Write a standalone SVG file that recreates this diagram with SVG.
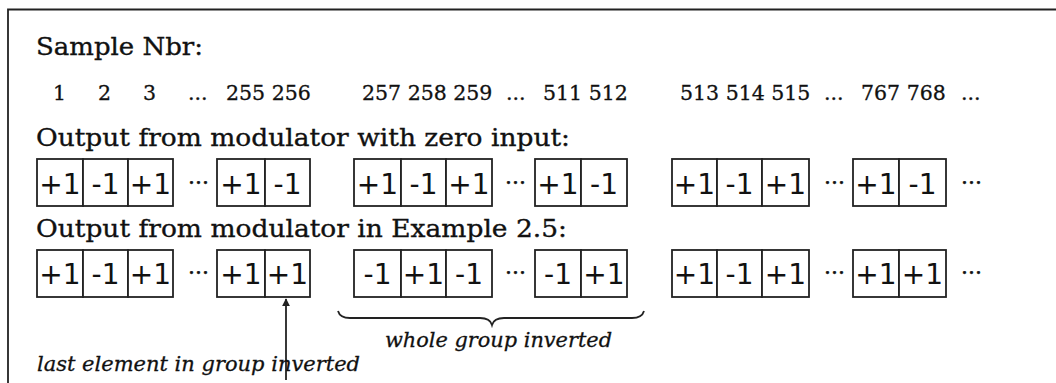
<svg xmlns="http://www.w3.org/2000/svg" width="1056" height="383" viewBox="0 0 1056 383">
<style>
.hd{font-family:"DejaVu Serif","Liberation Serif",serif;font-size:25px;fill:#111;stroke:#111;stroke-width:0.35}
.num{font-family:"DejaVu Serif","Liberation Serif",serif;font-size:20.5px;fill:#111;stroke:#111;stroke-width:0.3}
.it{font-family:"DejaVu Serif","Liberation Serif",serif;font-style:italic;font-size:21px;fill:#111;stroke:#111;stroke-width:0.3}
.bx{fill:#fff;stroke:#222;stroke-width:1.8}
.bt{font-family:"DejaVu Sans","Liberation Sans",sans-serif;font-size:28px;fill:#111;text-anchor:middle}
.dots{font-family:"DejaVu Serif","Liberation Serif",serif;font-size:22px;fill:#111;stroke:#111;stroke-width:0.4}
.ln{fill:none;stroke:#222;stroke-width:1.8}
</style>
<defs>
<marker id="ah" viewBox="0 0 10 10" refX="9" refY="5" markerWidth="8" markerHeight="8" markerUnits="userSpaceOnUse" orient="auto"><path d="M0,0 L10,5 L0,10 z" fill="#222"/></marker>
</defs>
<g id="frame"><path class="ln" d="M8,383 L8,9.5 L1056,9.5" stroke-width="2"/></g>
<g id="labels">
<text class="hd" x="36" y="55" textLength="167" lengthAdjust="spacingAndGlyphs">Sample Nbr:</text>
<text class="num" x="53" y="100">1</text>
<text class="num" x="98" y="100">2</text>
<text class="num" x="143" y="100">3</text>
<text class="num" x="188" y="100">...</text>
<text class="num" x="226" y="100">255 256</text>
<text class="num" x="362" y="100">257 258 259</text>
<text class="num" x="506" y="100">...</text>
<text class="num" x="543" y="100">511 512</text>
<text class="num" x="680" y="100">513 514 515</text>
<text class="num" x="824" y="100">...</text>
<text class="num" x="861" y="100">767 768</text>
<text class="num" x="961" y="100">...</text>
<text class="hd" x="36" y="146" textLength="534" lengthAdjust="spacingAndGlyphs">Output from modulator with zero input:</text>
<text class="hd" x="36" y="237" textLength="531" lengthAdjust="spacingAndGlyphs">Output from modulator in Example 2.5:</text>
</g>
<g id="row1">
<rect class="bx" x="37" y="159" width="46" height="47"/><text class="bt" x="60" y="194">+1</text>
<rect class="bx" x="83" y="159" width="45" height="47"/><text class="bt" x="105.5" y="194">-1</text>
<rect class="bx" x="128" y="159" width="45" height="47"/><text class="bt" x="150.5" y="194">+1</text>
<text class="dots" x="188" y="190">···</text>
<rect class="bx" x="217" y="159" width="48" height="47"/><text class="bt" x="241" y="194">+1</text>
<rect class="bx" x="265" y="159" width="45" height="47"/><text class="bt" x="287.5" y="194">-1</text>
<rect class="bx" x="354" y="159" width="47" height="47"/><text class="bt" x="377.5" y="194">+1</text>
<rect class="bx" x="401" y="159" width="45" height="47"/><text class="bt" x="423.5" y="194">-1</text>
<rect class="bx" x="446" y="159" width="46" height="47"/><text class="bt" x="469" y="194">+1</text>
<text class="dots" x="505" y="190">···</text>
<rect class="bx" x="535" y="159" width="46" height="47"/><text class="bt" x="558" y="194">+1</text>
<rect class="bx" x="581" y="159" width="46" height="47"/><text class="bt" x="604" y="194">-1</text>
<rect class="bx" x="672" y="159" width="45" height="47"/><text class="bt" x="694.5" y="194">+1</text>
<rect class="bx" x="717" y="159" width="45" height="47"/><text class="bt" x="739.5" y="194">-1</text>
<rect class="bx" x="762" y="159" width="47" height="47"/><text class="bt" x="785.5" y="194">+1</text>
<text class="dots" x="824" y="190">···</text>
<rect class="bx" x="853" y="159" width="46" height="47"/><text class="bt" x="876" y="194">+1</text>
<rect class="bx" x="899" y="159" width="47" height="47"/><text class="bt" x="922.5" y="194">-1</text>
<text class="dots" x="961" y="190">···</text>
</g>
<g id="row2">
<rect class="bx" x="37" y="250" width="46" height="47"/><text class="bt" x="60" y="284">+1</text>
<rect class="bx" x="83" y="250" width="45" height="47"/><text class="bt" x="105.5" y="284">-1</text>
<rect class="bx" x="128" y="250" width="45" height="47"/><text class="bt" x="150.5" y="284">+1</text>
<text class="dots" x="188" y="280">···</text>
<rect class="bx" x="217" y="250" width="48" height="47"/><text class="bt" x="241" y="284">+1</text>
<rect class="bx" x="265" y="250" width="45" height="47"/><text class="bt" x="287.5" y="284">+1</text>
<rect class="bx" x="354" y="250" width="47" height="47"/><text class="bt" x="377.5" y="284">-1</text>
<rect class="bx" x="401" y="250" width="45" height="47"/><text class="bt" x="423.5" y="284">+1</text>
<rect class="bx" x="446" y="250" width="46" height="47"/><text class="bt" x="469" y="284">-1</text>
<text class="dots" x="505" y="280">···</text>
<rect class="bx" x="535" y="250" width="46" height="47"/><text class="bt" x="558" y="284">-1</text>
<rect class="bx" x="581" y="250" width="46" height="47"/><text class="bt" x="604" y="284">+1</text>
<rect class="bx" x="672" y="250" width="45" height="47"/><text class="bt" x="694.5" y="284">+1</text>
<rect class="bx" x="717" y="250" width="45" height="47"/><text class="bt" x="739.5" y="284">-1</text>
<rect class="bx" x="762" y="250" width="47" height="47"/><text class="bt" x="785.5" y="284">+1</text>
<text class="dots" x="824" y="280">···</text>
<rect class="bx" x="853" y="250" width="46" height="47"/><text class="bt" x="876" y="284">+1</text>
<rect class="bx" x="899" y="250" width="47" height="47"/><text class="bt" x="922.5" y="284">+1</text>
<text class="dots" x="961" y="280">···</text>
</g>
<g id="connectors">
<line class="ln" x1="286" y1="380" x2="286" y2="299" stroke-width="1.5" marker-end="url(#ah)"/>
<path class="ln" d="M338,311 Q340,318 350,318 L480,318 Q490,318 492,325 Q494,318 504,318 L632,318 Q642,318 644,311"/>
</g>
<g id="annotations">
<text class="it" x="37" y="371" textLength="323" lengthAdjust="spacingAndGlyphs">last element in group inverted</text>
<text class="it" x="385" y="347" textLength="227" lengthAdjust="spacingAndGlyphs">whole group inverted</text>
</g>
</svg>
